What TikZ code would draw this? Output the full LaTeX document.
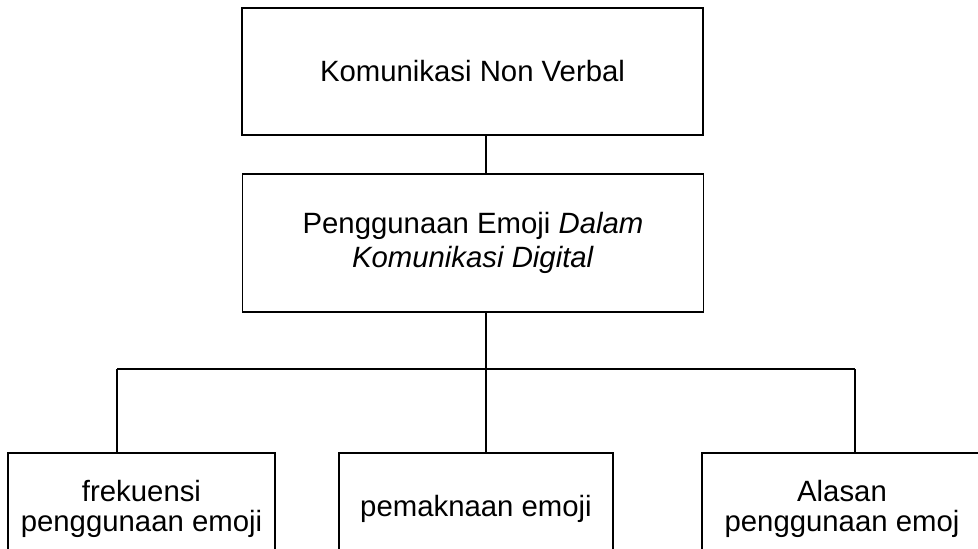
\documentclass[tikz,border=0pt]{standalone}
\usepackage{fontspec}
\setmainfont{Liberation Sans}
\begin{document}
\begin{tikzpicture}[x=0.75pt, y=-0.75pt, line width=1.1pt,
  box/.style = {draw, rectangle, align=center, inner sep=0pt, font=\fontsize{22}{25}\selectfont},
  topbox/.style = {box, minimum width=345.75pt, minimum height=95.25pt},
  leaf/.style = {box, minimum height=84pt, font=\fontsize{22}{23}\selectfont}]
\useasboundingbox (0,0) rectangle (978,549);
\clip (0,0) rectangle (978,549);
\node[topbox] (kom) at (472.5,71.5) {Komunikasi Non Verbal};
\node[topbox, minimum height=103.5pt] (emoji) at (473,243) {Penggunaan Emoji \textit{Dalam}\\ \textit{Komunikasi Digital}};
\node[leaf, minimum width=200.25pt] (frek) at (141.5,509) {frekuensi\\ penggunaan emoji};
\node[leaf, minimum width=205.5pt] (makna) at (476,509) {pemaknaan emoji};
\node[leaf, minimum width=210pt] (alasan) at (842,509) {Alasan\\ penggunaan emoj};
\coordinate (split) at (486,369);
\coordinate (splitL) at (117,369);
\coordinate (splitR) at (855,369);
\draw (kom.south -| split) -- (emoji.north -| split);
\draw (emoji.south -| split) -- (split);
\draw (splitL) -- (splitR);
\draw (splitL) -- (splitL |- frek.north);
\draw (split) -- (split |- makna.north);
\draw (splitR) -- (splitR |- alasan.north);
\end{tikzpicture}
\end{document}
